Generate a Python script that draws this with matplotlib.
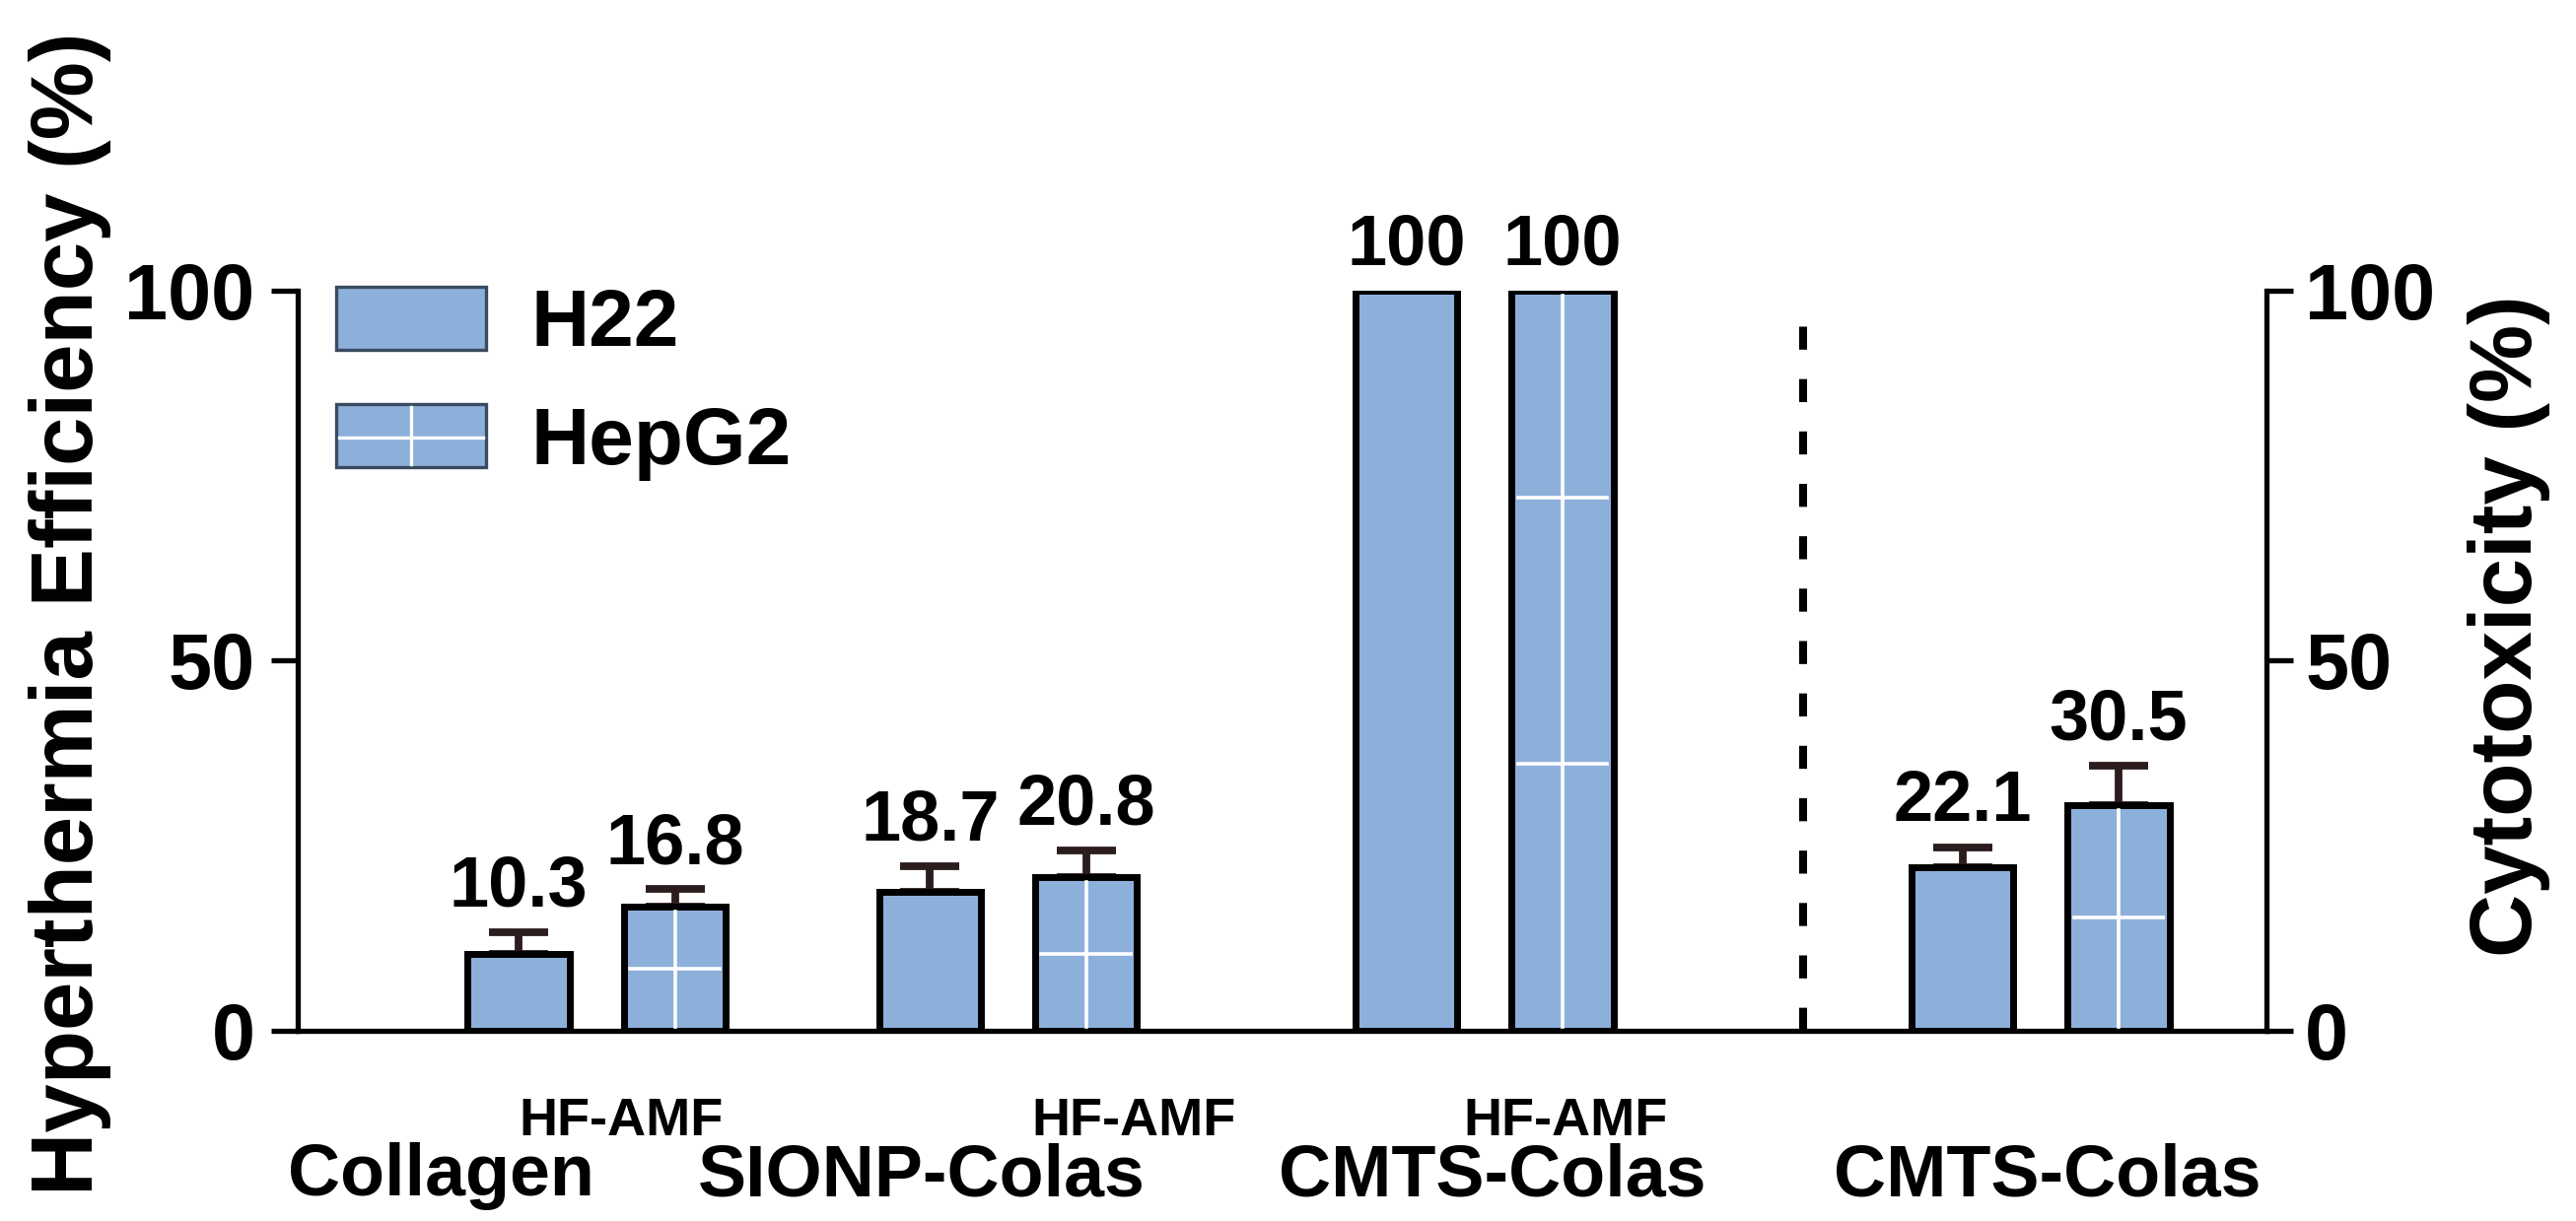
import matplotlib
matplotlib.use("Agg")
import matplotlib.pyplot as plt
from matplotlib.patches import Rectangle, Patch
from matplotlib.lines import Line2D
from matplotlib.legend_handler import HandlerPatch

# data
groups = ["Collagen", "SIONP-Colas", "CMTS-Colas", "CMTS-Colas"]
h22 = [10.3, 18.7, 100, 22.1]
hepg2 = [16.8, 20.8, 100, 30.5]
h22_err = [3.0, 3.5, 0, 2.7]
hepg2_err = [2.3, 3.5, 0, 5.3]
field_label = "HF-AMF"

font = "Liberation Sans"
fill = "#8DB0DB"
edge = "black"

# layout in bar-spacing units
centers = [1.88, 4.46, 7.45, 10.94]
half = 0.49
bw = 0.64
xmax = 12.36
divider = 9.45


class CrossHandler(HandlerPatch):
    def create_artists(self, legend, orig_handle, xdescent, ydescent,
                       width, height, fontsize, trans):
        x0, y0 = -xdescent, -ydescent
        r = Rectangle((x0, y0), width, height, facecolor=fill,
                      edgecolor="#3a4a60", lw=1.2, transform=trans)
        v = Line2D([x0 + width / 2] * 2, [y0 + 1, y0 + height - 1],
                   color="white", lw=1.2, transform=trans)
        h = Line2D([x0 + 1, x0 + width - 1], [y0 + height * 0.47] * 2,
                   color="white", lw=1.2, transform=trans)
        return [r, v, h]


fig = plt.figure(figsize=(13.065, 6.195), dpi=200)
ax = fig.add_axes([0.1154, 0.156, 0.7646, 0.606])

xl = [c - half for c in centers]
xr = [c + half for c in centers]

ax.bar(xl, h22, width=bw, color=fill, edgecolor=edge, linewidth=2.5, zorder=3)
ax.bar(xr, hepg2, width=bw, color=fill, edgecolor=edge, linewidth=2.5, zorder=3)

# white cross lines inside HepG2 bars
for x, v in zip(xr, hepg2):
    ax.plot([x, x], [0.5, v - 0.7], color="white", lw=1.3, zorder=4)
    levels = [0.36 * v, 0.72 * v] if v > 50 else [0.5 * v]
    for lv in levels:
        ax.plot([x - bw / 2 + 0.04, x + bw / 2 - 0.04], [lv, lv], color="white", lw=1.3, zorder=4)

for xs, vals, errs in [(xl, h22, h22_err), (xr, hepg2, hepg2_err)]:
    for x, v, e in zip(xs, vals, errs):
        if e > 0:
            ax.errorbar(x, v, yerr=[[0], [e]], fmt="none", ecolor="#2b1d1d",
                        elinewidth=2.8, capsize=10.8, capthick=2.8, zorder=2)
        top = v + e
        lbl = "100" if v == 100 else f"{v}"
        ax.text(x, top + 3.5, lbl, ha="center", va="baseline", fontsize=26,
                fontweight="bold", family=font, clip_on=False)

ax.plot([divider, divider], [0, 96.5], color="black", lw=2.9,
        dashes=(2.9, 3.7), zorder=1)

ax.set_xlim(0, xmax)
ax.set_ylim(0, 100)
ax.spines["top"].set_visible(False)
ax.spines["bottom"].set_linewidth(1.9)
ax.spines["left"].set_linewidth(1.9)
ax.spines["right"].set_visible(False)
ax.set_xticks([])
ax.set_yticks([0, 50, 100])
ax.set_yticklabels(["0", "50", "100"], fontsize=28.5, fontweight="bold", family=font)
ax.tick_params(axis="y", length=9.7, width=1.9, pad=5.8)

ax2 = ax.twinx()
ax2.set_ylim(0, 100)
for s in ["top", "left", "bottom"]:
    ax2.spines[s].set_visible(False)
ax2.spines["right"].set_linewidth(1.9)
ax2.set_yticks([0, 50, 100])
ax2.set_yticklabels(["0", "50", "100"], fontsize=28.5, fontweight="bold", family=font)
ax2.tick_params(axis="y", length=9.7, width=1.9, pad=4.3)

handles = [Patch(facecolor=fill, edgecolor="#3a4a60", lw=1.2), Patch(facecolor=fill)]
ax.legend(handles, ["H22", "HepG2"], loc="upper left",
          bbox_to_anchor=(0.02, 1.005), frameon=False, borderpad=0, borderaxespad=0,
          handlelength=1.85, handleheight=0.82, handletextpad=0.56,
          labelspacing=0.51, prop={"family": font, "weight": "bold", "size": 29.5},
          handler_map={handles[1]: CrossHandler()})

# category labels under the axis
hf_x = [2.03, 5.25, 7.96]
for x in hf_x:
    ax.text(x, -0.142, field_label, transform=ax.get_xaxis_transform(), ha="center",
            va="baseline", fontsize=19.5, fontweight="bold", family=font)
grp_x = [0.9, 3.92, 7.5, 10.98]
for x, g in zip(grp_x, groups):
    ax.text(x, -0.223, g, transform=ax.get_xaxis_transform(), ha="center",
            va="baseline", fontsize=26.5, fontweight="bold", family=font)

fig.text(0.027, 0.497, "Hyperthermia Efficiency (%)", rotation=90, ha="center",
         va="center", fontsize=32, fontweight="bold", family=font)
fig.text(0.974, 0.487, "Cytotoxicity (%)", rotation=90, ha="center",
         va="center", fontsize=32, fontweight="bold", family=font)

fig.savefig("out.png", dpi=200)
